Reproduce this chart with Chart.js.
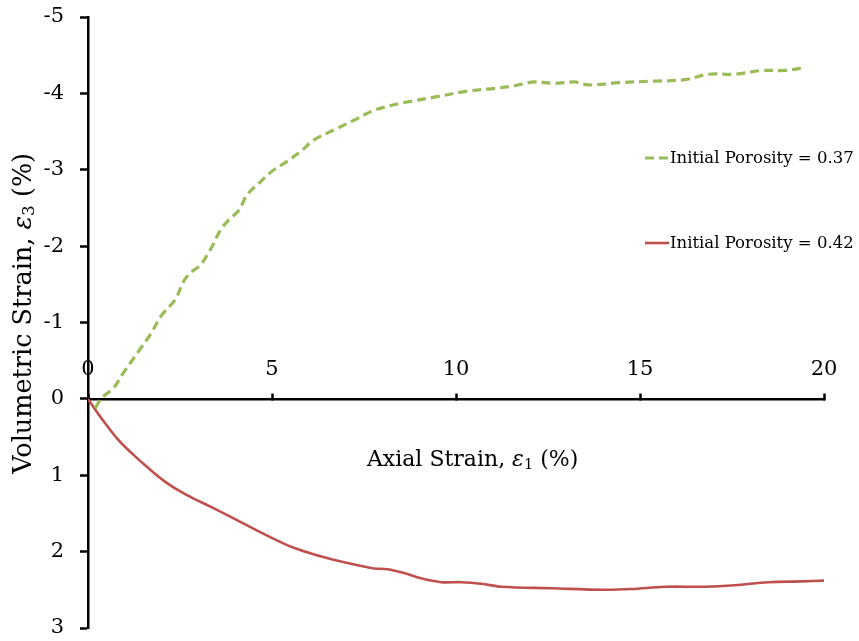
<!DOCTYPE html>
<html>
<head>
<meta charset="utf-8">
<script src="https://cdn.jsdelivr.net/npm/chart.js@4"></script>
<style>
  html, body { margin: 0; padding: 0; background: #fff; }
  #wrap { width: 859px; height: 641px; position: relative; }
</style>
</head>
<body>
<div id="wrap"><canvas id="c" width="859" height="641"></canvas></div>
<script>
// Axial strain (%) and volumetric strain (%) for the two samples
const axial037 = [0.2, 0.37, 0.69, 0.96, 1.37, 1.69, 2.01, 2.37, 2.60, 2.78, 3.05, 3.32, 3.60, 3.82, 4.10, 4.32, 4.64, 5.00, 5.41, 5.78, 6.14, 6.68, 7.23, 7.73, 8.14, 8.60, 9.41, 10.32, 11.13, 11.59, 12.13, 12.68, 13.22, 13.59, 14.41, 15.40, 16.22, 16.86, 17.58, 18.31, 18.95, 19.49];
const volumetric037 = [0.12, -0.01, -0.14, -0.34, -0.62, -0.84, -1.10, -1.30, -1.54, -1.65, -1.75, -1.95, -2.21, -2.34, -2.47, -2.67, -2.82, -2.98, -3.11, -3.24, -3.39, -3.52, -3.65, -3.77, -3.83, -3.88, -3.95, -4.03, -4.07, -4.10, -4.15, -4.13, -4.15, -4.11, -4.14, -4.16, -4.18, -4.25, -4.25, -4.30, -4.30, -4.34];

const axial042 = [0, 0.33, 0.83, 1.23, 1.60, 2.14, 2.69, 3.41, 4.14, 4.87, 5.59, 6.32, 7.05, 7.77, 8.14, 8.59, 9.05, 9.59, 10.14, 10.68, 11.23, 12.59, 14.04, 14.77, 15.68, 16.77, 17.58, 18.49, 19.40, 20.0];
const volumetric042 = [0, 0.23, 0.54, 0.73, 0.89, 1.10, 1.26, 1.43, 1.61, 1.79, 1.95, 2.06, 2.15, 2.22, 2.23, 2.28, 2.35, 2.40, 2.40, 2.42, 2.46, 2.48, 2.50, 2.49, 2.46, 2.46, 2.44, 2.40, 2.39, 2.38];

const seriesNames = ['Initial Porosity = 0.37', 'Initial Porosity = 0.42'];
const xTicks = [0, 5, 10, 15, 20];
const yTicks = [-5, -4, -3, -2, -1, 0, 1, 2, 3];

const GREEN = '#9BBB59';
const RED = '#C0504D';
const SERIF = '"DejaVu Serif", "Liberation Serif", serif';
const TICK_SIZE = 21;

const toPoints = (xs, ys) => xs.map((x, i) => ({ x, y: ys[i] }));

// Scales keep exactly the space they are given (no label overhang padding)
function fixScale(width, height) {
  return s => {
    if (width !== null) s.width = width;
    if (height !== null) s.height = height;
    s.paddingLeft = s.paddingRight = s.paddingTop = s.paddingBottom = 0;
  };
}

// Axis titles (with italic epsilon and subscript) and the in-plot legend
const annotations = {
  id: 'annotations',
  afterDraw(chart) {
    const ctx = chart.ctx;
    const xs = chart.scales.x, ys = chart.scales.y;

    function richParts(parts, size) {
      return parts.map(p => {
        const s = p.sub ? size * 0.66 : size;
        const font = (p.italic ? 'italic ' : '') + s + 'px ' + SERIF;
        ctx.font = font;
        return { text: p.text, font, dy: p.sub ? size * 0.24 : 0, w: ctx.measureText(p.text).width };
      });
    }
    function drawRich(parts, cx, cy) {
      const total = parts.reduce((a, p) => a + p.w, 0);
      let x = cx - total / 2;
      ctx.textBaseline = 'middle';
      ctx.textAlign = 'left';
      ctx.fillStyle = '#000';
      for (const p of parts) {
        ctx.font = p.font;
        ctx.fillText(p.text, x, cy + p.dy);
        x += p.w;
      }
    }

    ctx.save();
    // x axis title, a little right of the axis centre
    const xt = richParts([
      { text: 'Axial Strain, ' }, { text: 'ε', italic: true }, { text: '1', sub: true }, { text: ' (%)' }
    ], 22);
    drawRich(xt, xs.getPixelForValue(10.45), ys.getPixelForValue(0) + 61);

    // y axis title (rotated)
    ctx.save();
    ctx.translate(24, ys.getPixelForValue(-1.12));
    ctx.rotate(-Math.PI / 2);
    const yt = richParts([
      { text: 'Volumetric Strain, ' }, { text: 'ε', italic: true }, { text: '3', sub: true }, { text: ' (%)' }
    ], 25.5);
    drawRich(yt, 0, 0);
    ctx.restore();

    // legend
    const ds = chart.data.datasets;
    const rows = [158, 243];
    ctx.font = '16.5px ' + SERIF;
    ctx.textBaseline = 'middle';
    ctx.textAlign = 'left';
    ds.forEach((d, i) => {
      const y = rows[i];
      ctx.beginPath();
      ctx.strokeStyle = d.borderColor;
      ctx.lineWidth = d.borderWidth;
      ctx.setLineDash(d.borderDash || []);
      ctx.moveTo(645, y);
      ctx.lineTo(669, y);
      ctx.stroke();
      ctx.setLineDash([]);
      ctx.fillStyle = '#000';
      ctx.fillText(d.label, 670, y + 1);
    });
    ctx.restore();
  }
};

new Chart(document.getElementById('c'), {
  type: 'scatter',
  data: {
    datasets: [
      {
        label: seriesNames[0],
        data: toPoints(axial037, volumetric037),
        showLine: true,
        borderColor: GREEN,
        backgroundColor: GREEN,
        borderWidth: 3.2,
        borderDash: [9, 5],
        pointRadius: 0,
        tension: 0.35,
        fill: false
      },
      {
        label: seriesNames[1],
        data: toPoints(axial042, volumetric042),
        showLine: true,
        borderColor: RED,
        backgroundColor: RED,
        borderWidth: 2.6,
        pointRadius: 0,
        tension: 0.35,
        fill: false
      }
    ]
  },
  options: {
    responsive: false,
    animation: false,
    devicePixelRatio: 1,
    layout: { autoPadding: false, padding: { left: 0, right: 35, top: 17, bottom: 13 } },
    plugins: {
      legend: { display: false },
      tooltip: { enabled: false }
    },
    scales: {
      x: {
        type: 'linear',
        position: { y: 0 },
        min: xTicks[0],
        max: xTicks[xTicks.length - 1],
        afterBuildTicks: s => { s.ticks = xTicks.map(v => ({ value: v })); },
        afterFit: fixScale(null, 0),
        border: { display: true, color: '#000', width: 2.5 },
        grid: { drawOnChartArea: false, drawTicks: true, tickLength: -7, tickWidth: 2.5, tickColor: '#000' },
        ticks: {
          color: '#000',
          font: { family: SERIF, size: TICK_SIZE },
          maxRotation: 0,
          autoSkip: false,
          padding: -(29 + TICK_SIZE * 1.2 / 2) + 7
        }
      },
      y: {
        type: 'linear',
        position: 'left',
        reverse: true,
        min: yTicks[0],
        max: yTicks[yTicks.length - 1],
        afterBuildTicks: s => { s.ticks = yTicks.map(v => ({ value: v })); },
        afterFit: fixScale(88, null),
        border: { display: true, color: '#000', width: 2.5 },
        grid: { drawOnChartArea: false, drawTicks: true, tickLength: 8, tickWidth: 2.5, tickColor: '#000' },
        ticks: {
          color: '#000',
          font: { family: SERIF, size: TICK_SIZE },
          padding: 16,
          autoSkip: false
        }
      }
    }
  },
  plugins: [annotations]
});
</script>
</body>
</html>
